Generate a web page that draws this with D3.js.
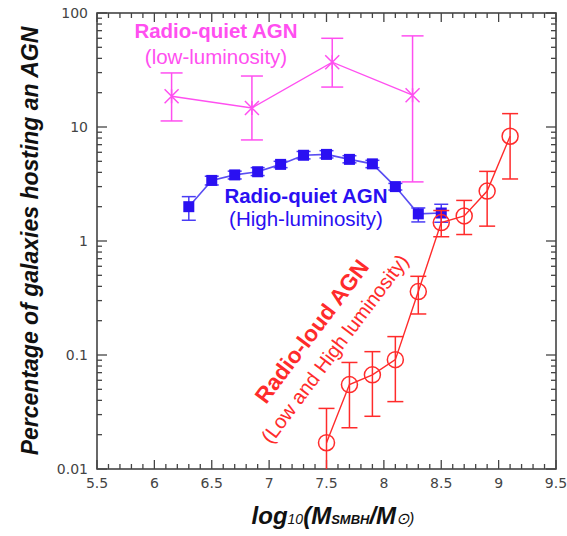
<!DOCTYPE html>
<html>
<head>
<meta charset="utf-8">
<script src="https://cdn.jsdelivr.net/npm/d3@7"></script>
<style>
  body { margin: 0; background: #fff; }
  svg { display: block; }
</style>
</head>
<body>
<svg id="chart"></svg>
<script>
// Radio-quiet AGN, low luminosity (pink asterisks)
const lowLumX = [6.15, 6.85, 7.55, 8.25];
const lowLumY = [18.6, 14.7, 37, 19];
const lowLumHi = [29.8, 28, 60, 63];
const lowLumLo = [11.3, 7.7, 22.4, 3.3];

// Radio-quiet AGN, high luminosity (blue squares)
const highLumX = [6.3, 6.5, 6.7, 6.9, 7.1, 7.3, 7.5, 7.7, 7.9, 8.1, 8.3, 8.5];
const highLumY = [2.0, 3.4, 3.8, 4.05, 4.7, 5.65, 5.75, 5.2, 4.75, 3.0, 1.73, 1.76];
const highLumHi = [2.45, 3.7, 4.1, 4.4, 5.0, 6.1, 6.2, 5.6, 5.1, 3.2, 1.95, 2.1];
const highLumLo = [1.52, 3.1, 3.5, 3.75, 4.4, 5.25, 5.35, 4.85, 4.4, 2.8, 1.47, 1.46];

// Radio-loud AGN (red open circles)
const radioLoudX = [7.5, 7.7, 7.9, 8.1, 8.3, 8.5, 8.7, 8.9, 9.1];
const radioLoudY = [0.017, 0.055, 0.067, 0.091, 0.36, 1.45, 1.66, 2.74, 8.3];
const radioLoudHi = [0.034, 0.086, 0.107, 0.145, 0.49, 1.85, 2.27, 4.08, 13.1];
const radioLoudLo = [0.008, 0.023, 0.029, 0.039, 0.229, 1.09, 1.14, 1.35, 3.5];

// Tick labels
const xTicks = [5.5, 6, 6.5, 7, 7.5, 8, 8.5, 9, 9.5];
const yTicks = [0.01, 0.1, 1, 10, 100];
const yTickLabels = ["0.01", "0.1", "1", "10", "100"];

const W = 567, H = 536;
const margin = {top: 13, right: 11, bottom: 67, left: 97};
const width = W - margin.left - margin.right;
const height = H - margin.top - margin.bottom;

const svg = d3.select("#chart").attr("width", W).attr("height", H);
const g = svg.append("g").attr("transform", `translate(${margin.left},${margin.top})`);

const x = d3.scaleLinear().domain([5.5, 9.5]).range([0, width]);
const y = d3.scaleLog().domain([0.01, 100]).range([height, 0]);

const axisColor = "#444";
const tickFont = "'DejaVu Sans', sans-serif";

// minor ticks
const xMinor = d3.range(55, 96).map(d => d / 10);
const yMinor = [];
[0.01, 0.1, 1, 10].forEach(dec => { for (let k = 2; k <= 9; k++) yMinor.push(dec * k); });

const ticks = g.append("g").attr("stroke", axisColor).attr("stroke-width", 1.3);
xMinor.forEach(v => {
  const major = Math.abs(v * 2 - Math.round(v * 2)) < 1e-6;
  const len = major ? 9 : 5;
  ticks.append("line").attr("x1", x(v)).attr("x2", x(v)).attr("y1", height).attr("y2", height - len);
  ticks.append("line").attr("x1", x(v)).attr("x2", x(v)).attr("y1", 0).attr("y2", len);
});
yTicks.forEach(v => {
  ticks.append("line").attr("x1", 0).attr("x2", 10).attr("y1", y(v)).attr("y2", y(v));
  ticks.append("line").attr("x1", width).attr("x2", width - 10).attr("y1", y(v)).attr("y2", y(v));
});
yMinor.forEach(v => {
  ticks.append("line").attr("x1", 0).attr("x2", 5).attr("y1", y(v)).attr("y2", y(v));
  ticks.append("line").attr("x1", width).attr("x2", width - 5).attr("y1", y(v)).attr("y2", y(v));
});

// frame
g.append("rect").attr("width", width).attr("height", height)
  .attr("fill", "none").attr("stroke", axisColor).attr("stroke-width", 1.6);

// tick labels
g.selectAll(".xlab").data(xTicks).enter().append("text")
  .attr("x", d => x(d)).attr("y", height + 19)
  .attr("text-anchor", "middle")
  .style("font-family", tickFont).style("font-size", "14px").style("fill", "#444")
  .text(d => d);
g.selectAll(".ylab").data(yTicks).enter().append("text")
  .attr("x", -9).attr("y", d => y(d)).attr("dy", "0.35em")
  .attr("text-anchor", "end")
  .style("font-family", tickFont).style("font-size", "14px").style("fill", "#444")
  .text((d, i) => yTickLabels[i]);

const plot = g.append("g");
svg.append("defs").append("clipPath").attr("id", "clip")
  .append("rect").attr("width", width).attr("height", height);
plot.attr("clip-path", "url(#clip)");

function errorBars(xs, lo, hi, color, cap, sw) {
  xs.forEach((xv, i) => {
    const cx = x(xv);
    const y1 = y(Math.max(lo[i], 0.005)), y2 = y(hi[i]);
    plot.append("line").attr("x1", cx).attr("x2", cx).attr("y1", y1).attr("y2", y2)
      .attr("stroke", color).attr("stroke-width", sw);
    [lo[i], hi[i]].forEach(v => {
      if (v < 0.01) return;
      plot.append("line").attr("x1", cx - cap).attr("x2", cx + cap).attr("y1", y(v)).attr("y2", y(v))
        .attr("stroke", color).attr("stroke-width", sw);
    });
  });
}

const line = d3.line().x(d => x(d[0])).y(d => y(d[1]));

// pink low-luminosity series
const pink = "#ff4ff0";
errorBars(lowLumX, lowLumLo, lowLumHi, pink, 11, 1.5);
plot.append("path").datum(d3.zip(lowLumX, lowLumY)).attr("d", line)
  .attr("fill", "none").attr("stroke", pink).attr("stroke-width", 1.4);
lowLumX.forEach((xv, i) => {
  const cx = x(xv), cy = y(lowLumY[i]), s = 7;
  plot.append("path")
    .attr("d", `M${cx - s},${cy - s}L${cx + s},${cy + s}M${cx - s},${cy + s}L${cx + s},${cy - s}M${cx},${cy - s}L${cx},${cy + s}`)
    .attr("stroke", pink).attr("stroke-width", 1.5).attr("fill", "none");
});

// blue high-luminosity series
const blue = "#2a10f2";
errorBars(highLumX, highLumLo, highLumHi, "#4a3cf5", 7, 1.5);
plot.append("path").datum(d3.zip(highLumX, highLumY)).attr("d", line)
  .attr("fill", "none").attr("stroke", "#5a4ef2").attr("stroke-width", 1.6);
plot.selectAll(".sq").data(d3.zip(highLumX, highLumY)).enter().append("rect")
  .attr("x", d => x(d[0]) - 5.5).attr("y", d => y(d[1]) - 5.5)
  .attr("width", 11).attr("height", 11).attr("fill", blue);

// red radio-loud series
const red = "#ff2b2b";
errorBars(radioLoudX, radioLoudLo, radioLoudHi, red, 8, 1.5);
plot.append("path").datum(d3.zip(radioLoudX, radioLoudY)).attr("d", line)
  .attr("fill", "none").attr("stroke", red).attr("stroke-width", 1.4);
plot.selectAll(".circ").data(d3.zip(radioLoudX, radioLoudY)).enter().append("circle")
  .attr("cx", d => x(d[0])).attr("cy", d => y(d[1])).attr("r", 8)
  .attr("fill", "none").attr("stroke", red).attr("stroke-width", 1.5);

// series labels
const labFont = "'Liberation Sans', Arial, sans-serif";
function label(tx, ty, lines, color, rot) {
  const t = svg.append("g").attr("transform", `translate(${tx},${ty}) rotate(${rot || 0})`);
  lines.forEach(l => {
    t.append("text").attr("x", 0).attr("y", l.dy).attr("text-anchor", "middle")
      .style("font-family", labFont).style("font-size", l.size + "px")
      .style("font-weight", l.bold ? "bold" : "normal").style("fill", color)
      .text(l.text);
  });
}
label(216, 38, [
  {text: "Radio-quiet AGN", dy: 0, size: 20.5, bold: true},
  {text: "(low-luminosity)", dy: 26, size: 20.5}
], pink);
label(306, 203, [
  {text: "Radio-quiet AGN", dy: 0, size: 20.5, bold: true},
  {text: "(High-luminosity)", dy: 23, size: 20.5}
], blue);
label(318, 336, [
  {text: "Radio-loud AGN", dy: 0, size: 22.5, bold: true},
  {text: "(Low and High luminosity)", dy: 28, size: 20}
], red, -53);

// axis titles
svg.append("text")
  .attr("transform", "translate(38,241) rotate(-90)")
  .attr("text-anchor", "middle")
  .style("font-family", labFont).style("font-size", "23px")
  .style("font-weight", "bold").style("font-style", "italic").style("fill", "#111")
  .text("Percentage of galaxies hosting an AGN");

const xt = svg.append("text").attr("x", 333).attr("y", 524).attr("text-anchor", "middle")
  .style("font-family", labFont).style("font-weight", "bold").style("font-style", "italic")
  .style("fill", "#111");
xt.append("tspan").style("font-size", "24px").text("log");
xt.append("tspan").style("font-size", "14px").style("font-weight", "normal").text("10");
xt.append("tspan").style("font-size", "24px").text("(M");
xt.append("tspan").style("font-size", "13px").text("SMBH");
xt.append("tspan").style("font-size", "24px").text("/M");
xt.append("tspan").style("font-size", "16px").style("font-weight", "normal").text("⊙)");
</script>
</body>
</html>
